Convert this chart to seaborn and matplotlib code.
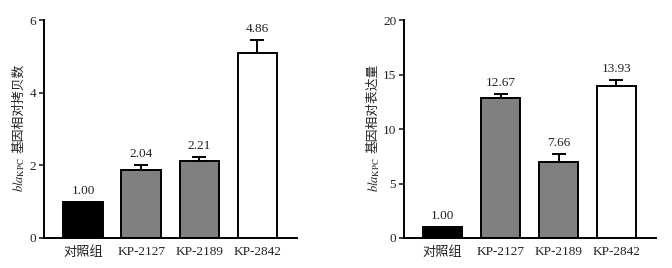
import matplotlib
matplotlib.use("Agg")
import matplotlib.pyplot as plt
import seaborn as sns
import pandas as pd

categories = ["对照组", "KP-2127", "KP-2189", "KP-2842"]
copy_values = [1.00, 1.88, 2.13, 5.09]
copy_err = [0.0, 0.14, 0.10, 0.37]
copy_labels = ["1.00", "2.04", "2.21", "4.86"]
expr_values = [1.00, 12.85, 6.98, 13.95]
expr_err = [0.0, 0.35, 0.70, 0.52]
expr_labels = ["1.00", "12.67", "7.66", "13.93"]
colors = ["#000000", "#808080", "#808080", "#ffffff"]

sns.set_theme(style="ticks")
plt.rcParams["font.family"] = ["Liberation Serif", "Noto Sans CJK SC"]
plt.rcParams["mathtext.fontset"] = "stix"

FS = 9.5
TXT = "#222222"

fig = plt.figure(figsize=(6.72, 2.68), dpi=100)
axL = fig.add_axes([0.0655, 0.112, 0.3765, 0.813])
axR = fig.add_axes([0.601, 0.112, 0.375, 0.813])

def draw(ax, vals, errs, labels, ymax, yticks, cn_label, off, lx):
    df = pd.DataFrame({"cat": categories, "val": vals})
    sns.barplot(data=df, x="cat", y="val", hue="cat", palette=colors, legend=False,
                width=0.68, edgecolor="black", linewidth=1.4, ax=ax, errorbar=None)
    xs = list(range(len(categories)))
    for x, v, e in zip(xs, vals, errs):
        if e > 0:
            ax.errorbar([x], [v], yerr=[[0], [e]], fmt="none", ecolor="black",
                        elinewidth=1.4, capsize=5, capthick=1.4)
    for x, v, e, t in zip(xs, vals, errs, labels):
        ax.text(x, v + e + off, t, ha="center", va="bottom", fontsize=FS, color=TXT)
    ax.set_ylim(0, ymax)
    ax.set_xlim(-0.67, 3.68)
    ax.set_yticks(yticks)
    ax.set_xlabel("")
    ax.set_ylabel("")
    sns.despine(ax=ax)
    for s in ["left", "bottom"]:
        ax.spines[s].set_linewidth(1.4)
        ax.spines[s].set_color("black")
    ax.tick_params(axis="y", length=3.5, width=1.2, labelsize=FS, pad=2, colors=TXT)
    ax.tick_params(axis="x", length=0, labelsize=FS, pad=6, colors=TXT)
    t1 = ax.text(lx, 0.21, r"$\it{bla}_{\rm KPC}$", transform=ax.transAxes,
                 rotation=90, ha="center", va="bottom", fontsize=FS - 0.5, color=TXT)
    ax.annotate(cn_label, xy=(0.5, 1.0), xycoords=t1, xytext=(0, 3),
                textcoords="offset points", rotation=90, ha="center", va="bottom",
                fontsize=FS - 0.3, color=TXT)

draw(axL, copy_values, copy_err, copy_labels, 6, [0, 2, 4, 6], "基因相对拷贝数", 0.14, -0.10)
draw(axR, expr_values, expr_err, expr_labels, 20, [0, 5, 10, 15, 20], "基因相对表达量", 0.45, -0.12)

fig.savefig("out.png", dpi=100)
